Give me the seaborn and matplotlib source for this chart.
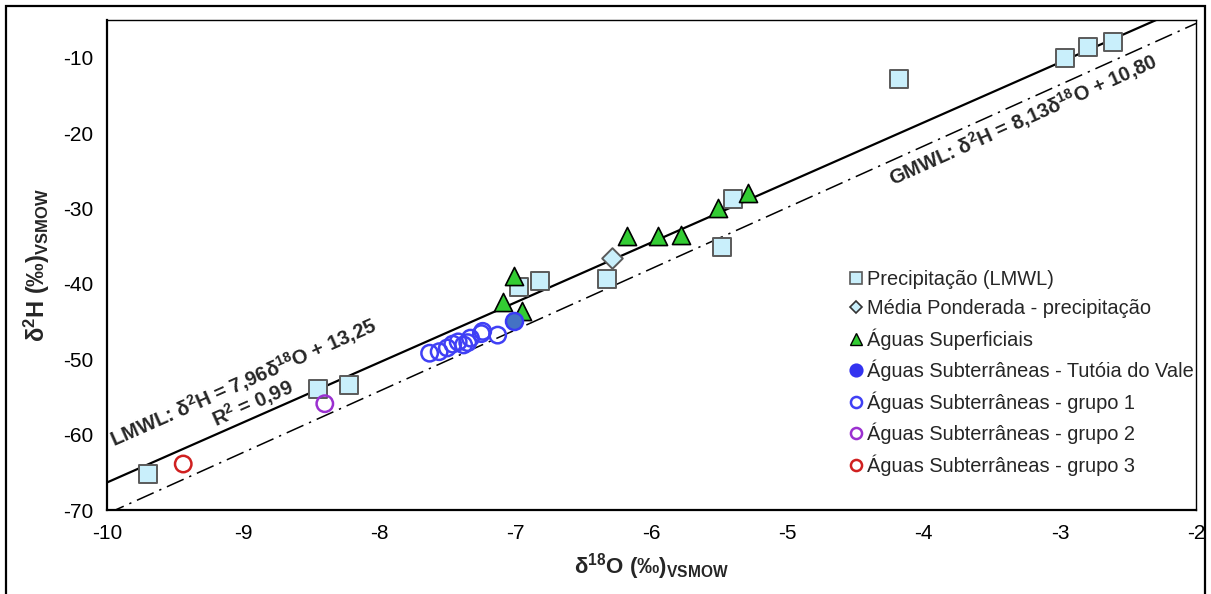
import numpy as np
import pandas as pd
import seaborn as sns
import matplotlib
matplotlib.use("Agg")
import matplotlib.pyplot as plt
from matplotlib.lines import Line2D
from matplotlib.patches import Rectangle

# ---------------- data ----------------
prec_x = [-9.70, -8.45, -8.22, -6.97, -6.82, -6.33, -5.48, -5.40, -4.18, -2.96, -2.79, -2.61]
prec_y = [-65.2, -53.9, -53.4, -40.4, -39.6, -39.3, -35.1, -28.7, -12.8, -10.0, -8.6, -7.9]

media_x = [-6.29]
media_y = [-36.6]

sup_x = [-7.09, -7.01, -6.95, -6.18, -5.95, -5.78, -5.51, -5.29]
sup_y = [-42.4, -39.0, -43.6, -33.7, -33.7, -33.5, -29.9, -28.0]

tut_x = [-7.01]
tut_y = [-44.9]

g1_x = [-7.63, -7.56, -7.50, -7.46, -7.42, -7.38, -7.35, -7.33, -7.25, -7.24, -7.13]
g1_y = [-49.2, -49.0, -48.5, -48.0, -47.7, -48.1, -47.8, -47.2, -46.6, -46.3, -46.8]

g2_x = [-8.40]
g2_y = [-55.9]

g3_x = [-9.44]
g3_y = [-63.9]

lmwl_slope, lmwl_icpt = 7.96, 13.25
gmwl_slope, gmwl_icpt = 8.13, 10.80

labels = ["Precipitação (LMWL)", "Média Ponderada - precipitação", "Águas Superficiais",
          "Águas Subterrâneas - Tutóia do Vale", "Águas Subterrâneas - grupo 1",
          "Águas Subterrâneas - grupo 2", "Águas Subterrâneas - grupo 3"]

x_ticks = [-10, -9, -8, -7, -6, -5, -4, -3, -2]
y_ticks = [-70, -60, -50, -40, -30, -20, -10]

# ---------------- style ----------------
sns.set_style("white")
plt.rcParams['font.family'] = ['Liberation Sans', 'DejaVu Sans']
plt.rcParams['mathtext.fontset'] = 'custom'
plt.rcParams['mathtext.rm'] = 'Liberation Sans:bold'
plt.rcParams['mathtext.bf'] = 'Liberation Sans:bold'
plt.rcParams['mathtext.it'] = 'Liberation Sans:bold'
plt.rcParams['mathtext.default'] = 'bf'

fig = plt.figure(figsize=(12.11, 5.94), dpi=100)
ax = fig.add_axes([107/1211, 1 - 510/594, (1196-107)/1211, (510-20)/594])

# mwl lines
xl = np.array([-10.0, -2.0])
ax.plot(xl, lmwl_slope*xl + lmwl_icpt, color='black', lw=1.6, zorder=2)
ax.plot(xl, gmwl_slope*xl + gmwl_icpt, color='black', lw=1.1, ls=(0, (12, 4, 1.5, 4)), zorder=2)

def df(x, y):
    return pd.DataFrame({'x': x, 'y': y})

sns.scatterplot(data=df(prec_x, prec_y), x='x', y='y', marker='s', s=150,
                color='#C9EFFB', edgecolor='#5A5A5A', linewidth=1.4, ax=ax, zorder=4, legend=False)
sns.scatterplot(data=df(media_x, media_y), x='x', y='y', marker='D', s=110,
                color='#C9EFFB', edgecolor='#5A5A5A', linewidth=1.4, ax=ax, zorder=4, legend=False)
sns.scatterplot(data=df(sup_x, sup_y), x='x', y='y', marker='^', s=170,
                color='#33CC33', edgecolor='black', linewidth=1.2, ax=ax, zorder=4, legend=False)
sns.scatterplot(data=df(g1_x, g1_y), x='x', y='y', marker='o', s=140,
                facecolor='none', edgecolor='#4040F5', linewidth=1.8, ax=ax, zorder=4, legend=False)
sns.scatterplot(data=df(tut_x, tut_y), x='x', y='y', marker='o', s=150,
                color='#4472C4', edgecolor='#3A3AF5', linewidth=1.8, ax=ax, zorder=5, legend=False)
sns.scatterplot(data=df(g2_x, g2_y), x='x', y='y', marker='o', s=140,
                facecolor='none', edgecolor='#9B30D0', linewidth=1.8, ax=ax, zorder=4, legend=False)
sns.scatterplot(data=df(g3_x, g3_y), x='x', y='y', marker='o', s=140,
                facecolor='none', edgecolor='#D02020', linewidth=1.8, ax=ax, zorder=4, legend=False)

ax.set_xlim(-10, -2)
ax.set_ylim(-70, -5)
ax.set_xticks(x_ticks)
ax.set_yticks(y_ticks)
ax.set_xticklabels([str(t) for t in x_ticks])
ax.set_yticklabels([str(t) for t in y_ticks])
ax.tick_params(axis='x', direction='inout', length=10, width=1.2, labelsize=15, pad=5, colors='black')
ax.tick_params(axis='y', direction='out', length=6, width=1.2, labelsize=15, pad=4, colors='black')
for s in ax.spines.values():
    s.set_color('black')
ax.spines['left'].set_linewidth(1.6)
ax.spines['bottom'].set_linewidth(1.6)
ax.spines['top'].set_linewidth(1.0)
ax.spines['right'].set_linewidth(1.0)

ax.set_xlabel(r'δ$^{18}$O (‰)$_{VSMOW}$', fontsize=16, fontweight='bold', labelpad=6)
ax.set_ylabel(r'δ$^{2}$H (‰)$_{VSMOW}$', fontsize=17, fontweight='bold', labelpad=8)

# annotations
ax.text(-9.0, -53.0, r'LMWL: δ$^{2}$H = 7,96δ$^{18}$O + 13,25', fontweight='bold',
        fontsize=14.5, rotation=23.8, ha='center', va='center', rotation_mode='anchor')
ax.text(-8.93, -55.8, r'R$^{2}$ = 0,99', fontweight='bold',
        fontsize=14.5, rotation=23.8, ha='center', va='center', rotation_mode='anchor')
ax.text(-3.27, -18.3, r'GMWL: δ$^{2}$H = 8,13δ$^{18}$O + 10,80', fontweight='bold',
        fontsize=14.5, rotation=24.2, ha='center', va='center', rotation_mode='anchor')

# legend
handles = [
    Line2D([], [], ls='none', marker='s', ms=9, mfc='#C9EFFB', mec='#5A5A5A', mew=1.2),
    Line2D([], [], ls='none', marker='D', ms=6.5, mfc='#C9EFFB', mec='#333333', mew=1.2),
    Line2D([], [], ls='none', marker='^', ms=9, mfc='#33CC33', mec='black', mew=1.0),
    Line2D([], [], ls='none', marker='o', ms=9, mfc='#3333F0', mec='#3333F0', mew=1.2),
    Line2D([], [], ls='none', marker='o', ms=8, mfc='none', mec='#4040F5', mew=1.8),
    Line2D([], [], ls='none', marker='o', ms=8, mfc='none', mec='#9B30D0', mew=1.8),
    Line2D([], [], ls='none', marker='o', ms=8, mfc='none', mec='#D02020', mew=1.8),
]
ax.legend(handles, labels, loc='upper left', bbox_to_anchor=(0.675, 0.497), frameon=False,
          fontsize=14.4, handletextpad=0.05, handlelength=1.0, labelspacing=0.5,
          borderpad=0.2, borderaxespad=0)

# figure border
fig.patches.append(Rectangle((6/1211, -0.02), (1205-6)/1211, 1 - 6/594 + 0.02,
                             transform=fig.transFigure, fill=False, ec='black', lw=1.6))

fig.savefig('out.png', dpi=100)
